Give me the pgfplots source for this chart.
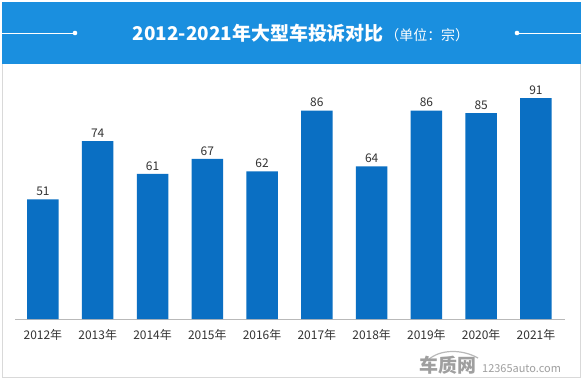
\documentclass[border=0pt]{standalone}
\usepackage{pgfplots}
\pgfplotsset{compat=1.18}
\usepackage{fontspec}
\setmainfont{Noto Sans CJK SC}
\definecolor{band}{HTML}{1A8FDF}
\definecolor{barc}{HTML}{0A6FC3}
\definecolor{txt}{HTML}{333333}
\begin{document}
\begin{tikzpicture}[x=1bp,y=1bp]
\fill[white] (0,0) rectangle (583,380);
\draw[gray!30, line width=1bp] (2.5,2.5) rectangle (580.5,377);
\fill[band] (2,316) rectangle (581,378);
\draw[white, line width=1bp] (2,347) -- (75,347);
\fill[white] (75,347) circle (2.3);
\draw[white, line width=1bp] (517,347) -- (581,347);
\fill[white] (517,347) circle (2.3);
\node[white, anchor=base, inner sep=0] at (301,340) {{\fontsize{19}{21}\selectfont\bfseries 2012-2021年大型车投诉对比}\,{\fontsize{14}{16}\selectfont （单位：宗）}};
\begin{axis}[at={(15bp,61bp)}, anchor=south west, scale only axis,
  width=550bp, height=243.8bp,
  xmin=-0.51, xmax=9.53, ymin=3.75, ymax=100,
  axis x line=bottom, axis y line=none,
  x axis line style={-, gray!55, line width=1bp},
  xtick=data, xtick style={draw=none},
  xticklabels={2012年,2013年,2014年,2015年,2016年,2017年,2018年,2019年,2020年,2021年},
  ytick=\empty,
  /pgf/number format/assume math mode=true,
  x tick label style={font=\fontsize{12}{14}\selectfont, text=txt, yshift=-3bp},
  ybar, bar width=31.5bp,
  nodes near coords,
  every node near coord/.append style={font=\fontsize{12}{14}\selectfont, text=txt},
  clip=false]
\addplot[fill=barc, draw=none] coordinates {(0,51) (1,74) (2,61) (3,67) (4,62) (5,86) (6,64) (7,86) (8,85) (9,91)};
\end{axis}
\draw[gray!55, line width=1.2bp] (428,20) .. controls (440,31) and (462,31) .. (478,22);
\node[gray!75, anchor=base, inner sep=0] at (448,8) {\fontsize{19}{21}\selectfont\bfseries 车质网};
\node[gray!75, anchor=base west, inner sep=0] at (482,8) {\fontsize{11}{13}\selectfont 12365auto.com};
\end{tikzpicture}
\end{document}
